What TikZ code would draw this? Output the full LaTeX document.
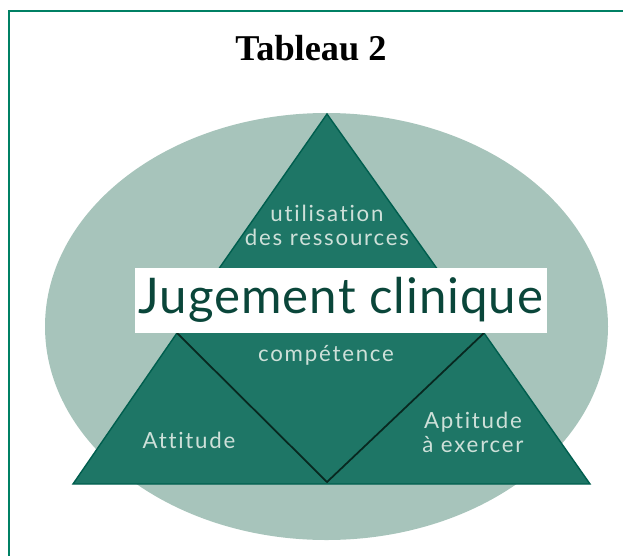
\documentclass[tikz,border=0pt]{standalone}
\usepackage{fontspec}
\usepackage{tikz}
\usetikzlibrary{positioning}
\setmainfont{Liberation Serif}
\newfontfamily\pyrfont[Ligatures=NoCommon, LetterSpace=8]{Lato}
\newfontfamily\bandfont[Ligatures=NoCommon, LetterSpace=2]{Lato}
\definecolor{framegreen}{RGB}{0,128,100}
\definecolor{ovalgreen}{RGB}{167,196,187}
\definecolor{pyrgreen}{RGB}{30,118,102}
\definecolor{edgegreen}{RGB}{0,94,78}
\definecolor{vlinecol}{RGB}{8,40,32}
\definecolor{labelgrey}{RGB}{206,224,217}
\definecolor{judgeink}{RGB}{10,70,58}

\begin{document}
\begin{tikzpicture}[x=0.03cm, y=-0.03cm,
    every node/.style={font=\pyrfont\fontsize{19}{20.5}\selectfont,
      text=labelgrey, inner sep=0pt, align=center}]
  \useasboundingbox (0,0) rectangle (623,556);
  % frame, open on the right and at the bottom
  \draw[framegreen, line width=2.2pt] (623,11) -- (9,11) -- (9,556);
  % title
  \node[font=\bfseries\fontsize{31}{34}\selectfont, text=black, anchor=base]
        (title) at (311,60) {Tableau 2};
  % oval behind the pyramid
  \fill[ovalgreen] (326.5,326.5) ellipse [x radius=281.5, y radius=213.5];
  % corners of the pyramid
  \coordinate (apex) at (327,114);
  \coordinate (tl) at (218,270);
  \coordinate (tr) at (438,270);
  \coordinate (ml) at (177,333);
  \coordinate (mr) at (484,333);
  \coordinate (bl) at (73,484);
  \coordinate (br) at (590,484);
  \coordinate (vtip) at (327,482);
  % upper triangle
  \fill[pyrgreen] (tl) -- (apex) -- (tr) -- cycle;
  \draw[edgegreen, line width=1.2pt] (tl) -- (apex) -- (tr);
  % lower part
  \fill[pyrgreen] (ml) -- (mr) -- (br) -- (bl) -- cycle;
  \draw[edgegreen, line width=1.2pt] (ml) -- (bl) -- (br) -- (mr);
  % the V between the three parts
  \draw[vlinecol, line width=1.5pt] (ml) -- (vtip) -- (mr);
  % white band with the main label
  \node[fill=white, minimum width=12.36cm, minimum height=1.95cm]
        (band) at (341,300.5) {};
  \node[font=\bandfont\fontsize{42}{46}\selectfont, text=judgeink, anchor=base]
        (judge) at (341,313) {Jugement clinique};
  % labels
  \node (util) at (327,225) {utilisation\\des ressources};
  \node (comp) at (326,355) {compétence};
  \node (attit) at (189,440) {Attitude};
  \node (aptit) at (473,432) {Aptitude\\à exercer};
\end{tikzpicture}
\end{document}
